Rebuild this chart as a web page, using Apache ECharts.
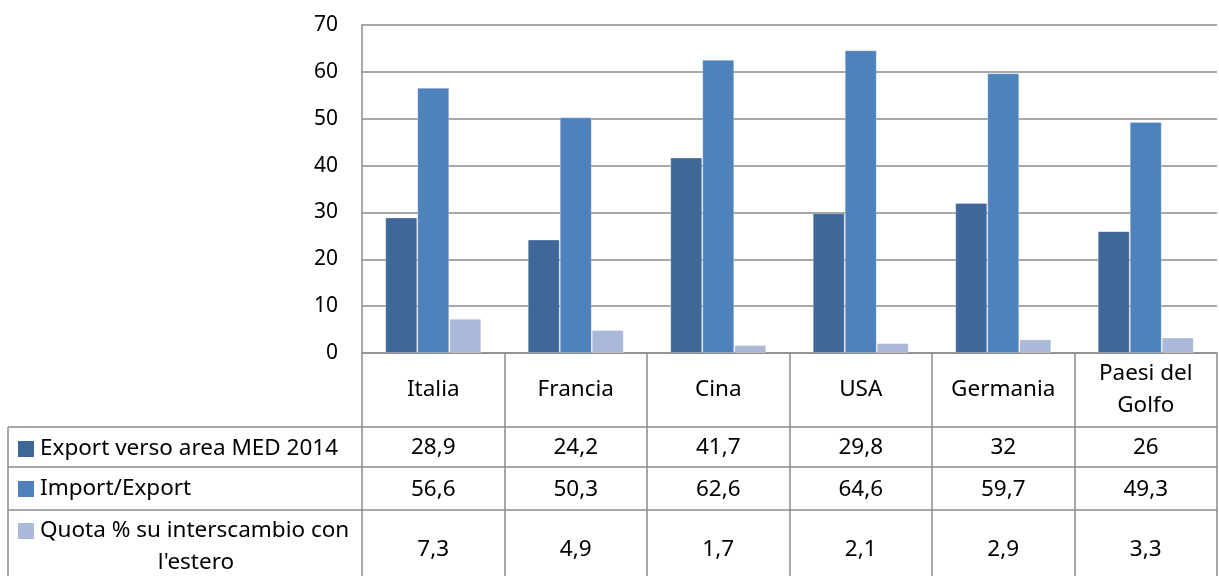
<!DOCTYPE html>
<html lang="it">
<head>
    <meta charset="UTF-8">
    <title>Export area MED</title>
    <script src="https://cdn.jsdelivr.net/npm/echarts@6/dist/echarts.min.js"></script>
    <style>
        html, body {margin: 0; padding: 0; background: #ffffff;}
        #main {width: 1219px; height: 576px;}
    </style>
</head>
<body>
<div id="main"></div>
<script type="text/javascript">
    var categorie = ['Italia', 'Francia', 'Cina', 'USA', 'Germania', 'Paesi del\nGolfo'];
    var exportMed = [28.9, 24.2, 41.7, 29.8, 32, 26];
    var importExport = [56.6, 50.3, 62.6, 64.6, 59.7, 49.3];
    var quota = [7.3, 4.9, 1.7, 2.1, 2.9, 3.3];
    var nomiSerie = ['Export verso area MED 2014', 'Import/Export', "Quota % su interscambio con\nl'estero"];
    var colori = ['#3f6797', '#4f81bd', '#aab9d7'];
    var valoriY = [0, 70, 10];

    var font = '"Noto Sans", sans-serif';
    var grigio = '#8c8c8c';
    var fs = 22.5;

    // formato italiano con la virgola
    function fmt(v) {
        return String(v).replace('.', ',');
    }

    // righe della tabella: [valori, altezza riga, offset dall'asse]
    var righe = [
        [exportMed, 40, 74],
        [importExport, 43, 114],
        [quota, 70, 157]
    ];

    var xAxes = [{
        type: 'category',
        data: categorie,
        axisLine: {lineStyle: {color: grigio, width: 1.5}},
        axisTick: {show: true, interval: 0, length: 74, lineStyle: {color: grigio, width: 1.5}},
        axisLabel: {
            interval: 0, margin: 37, verticalAlign: 'middle',
            color: '#000', fontFamily: font, fontSize: fs, lineHeight: 32
        }
    }];
    righe.forEach(function (r) {
        var valori = r[0];
        xAxes.push({
            type: 'category',
            position: 'bottom',
            offset: r[2],
            data: categorie,
            axisLine: {lineStyle: {color: grigio, width: 1.5}},
            axisTick: {show: true, interval: 0, length: r[1], lineStyle: {color: grigio, width: 1.5}},
            axisLabel: {
                interval: 0, verticalAlign: 'middle',
                margin: r[2] === 157 ? 40 : r[1] / 2 + 1,
                color: '#000', fontFamily: font, fontSize: fs,
                formatter: function (v, i) { return fmt(valori[i]); }
            }
        });
    });

    var serieDati = [exportMed, importExport, quota];
    var series = serieDati.map(function (d, i) {
        return {
            name: nomiSerie[i],
            type: 'bar',
            data: d,
            barWidth: 32,
            barGap: '0%',
            itemStyle: {color: colori[i], borderColor: 'rgba(255,255,255,0.25)', borderWidth: 1}
        };
    });

    // colonna sinistra con la legenda della tabella
    var sx = 8, ax = 362;
    var testo = function (t, x, y, align) {
        return {type: 'text', x: x, y: y, style: {text: t, fontFamily: font, fontSize: fs, fill: '#000', align: align || 'left', verticalAlign: 'middle'}};
    };
    var graphic = [
        {type: 'line', shape: {x1: sx, y1: 427, x2: ax, y2: 427}, style: {stroke: grigio, lineWidth: 1.5}},
        {type: 'line', shape: {x1: sx, y1: 467, x2: ax, y2: 467}, style: {stroke: grigio, lineWidth: 1.5}},
        {type: 'line', shape: {x1: sx, y1: 510, x2: ax, y2: 510}, style: {stroke: grigio, lineWidth: 1.5}},
        {type: 'line', shape: {x1: sx, y1: 427, x2: sx, y2: 576}, style: {stroke: grigio, lineWidth: 1.5}},
        {type: 'rect', shape: {x: 18, y: 441, width: 16, height: 16}, style: {fill: colori[0]}},
        testo(nomiSerie[0], 40, 449),
        {type: 'rect', shape: {x: 18, y: 481, width: 16, height: 16}, style: {fill: colori[1]}},
        testo(nomiSerie[1], 40, 489),
        {type: 'rect', shape: {x: 18, y: 523, width: 16, height: 16}, style: {fill: colori[2]}},
        testo(nomiSerie[2].split('\n')[0], 40, 531),
        testo(nomiSerie[2].split('\n')[1], 196, 563, 'center')
    ];

    var myChart = echarts.init(document.getElementById('main'));
    myChart.setOption({
        animation: false,
        grid: {left: 362, right: 2, top: 25, bottom: 223},
        xAxis: xAxes,
        yAxis: {
            type: 'value',
            min: valoriY[0],
            max: valoriY[1],
            interval: valoriY[2],
            axisLine: {show: true, lineStyle: {color: grigio, width: 1.5}},
            axisTick: {show: false},
            splitLine: {lineStyle: {color: grigio, width: 1.5}},
            axisLabel: {color: '#000', fontFamily: font, fontSize: 21, margin: 24}
        },
        series: series,
        graphic: graphic
    });
</script>
</body>
</html>
